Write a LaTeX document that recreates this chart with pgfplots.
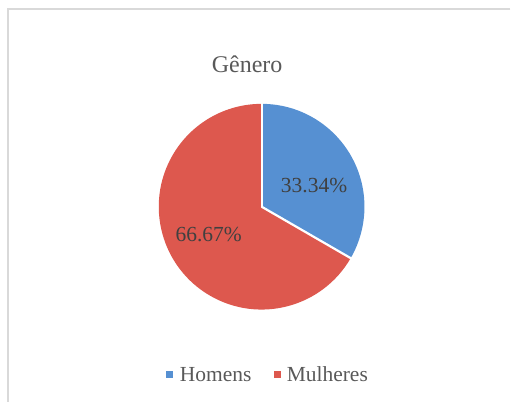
\documentclass[border=0pt]{standalone}
\usepackage{pgfplots}
\pgfplotsset{compat=1.18}
\usepackage{fontspec}
\setmainfont{Liberation Serif}
\definecolor{pieblue}{RGB}{86,144,210}
\definecolor{piered}{RGB}{221,88,78}
\definecolor{txt}{RGB}{89,89,89}
\definecolor{lbl}{RGB}{64,64,64}
\definecolor{frame}{RGB}{217,217,217}

% Genero: Homens 33.34%, Mulheres 66.67%
\def\homens{33.34}
\def\mulheres{66.67}
\pgfmathsetmacro{\aH}{360*\homens/(\homens+\mulheres)}
\pgfmathsetmacro{\aM}{360-\aH}
\pgfmathsetmacro{\aEnd}{90-\aH}

\begin{document}
\begin{tikzpicture}
\begin{axis}[
    width=511bp, height=403bp, scale only axis,
    xmin=0, xmax=511, ymin=0, ymax=403, y dir=reverse,
    hide axis, clip=false,
]
\path (axis cs:0,0) (axis cs:511,403);
% frame
\draw[frame, line width=1.5bp] (axis cs:511,9) -- (axis cs:8,9) -- (axis cs:8,403);
% title
\node[anchor=base, text=txt, font=\fontsize{24bp}{28bp}\selectfont] at (axis cs:247.5,73) {Gênero};
% wedges
\fill[pieblue] (axis cs:262,207) -- +(90:103bp) arc[start angle=90, delta angle=-\aH, radius=103bp] -- cycle;
\fill[piered] (axis cs:262,207) -- +(\aEnd:103bp) arc[start angle=\aEnd, delta angle=-\aM, radius=103bp] -- cycle;
\draw[white, line width=2.2bp] (axis cs:262,207) -- +(90:104bp);
\draw[white, line width=2.2bp] (axis cs:262,207) -- +(\aEnd:104bp);
% labels
\node[anchor=base, text=lbl, font=\fontsize{21.5bp}{26bp}\selectfont] at (axis cs:314.5,193) {33.34\%};
\node[anchor=base, text=lbl, font=\fontsize{21.5bp}{26bp}\selectfont] at (axis cs:209,242) {66.67\%};
% legend
\fill[pieblue] (axis cs:166.5,372) rectangle (axis cs:173.5,379);
\node[anchor=base west, inner sep=0pt, text=txt, font=\fontsize{21.5bp}{26bp}\selectfont] at (axis cs:180,382) {Homens};
\fill[piered] (axis cs:274,372) rectangle (axis cs:281,379);
\node[anchor=base west, inner sep=0pt, text=txt, font=\fontsize{21.5bp}{26bp}\selectfont] at (axis cs:287,382) {Mulheres};
\end{axis}
\end{tikzpicture}
\end{document}
